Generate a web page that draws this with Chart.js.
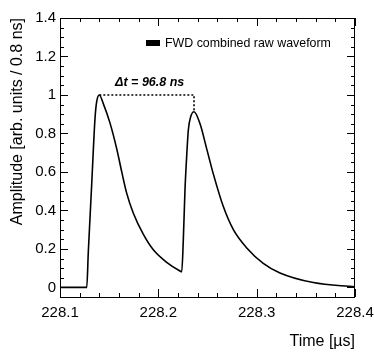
<!DOCTYPE html>
<html lang="en">
<head>
  <meta charset="UTF-8">
  <title>FWD combined raw waveform</title>
  <script src="https://cdn.jsdelivr.net/npm/chart.js"></script>
  <style>
    body { margin: 0; background: #fff; }
  </style>
</head>
<body>
  <canvas id="myChart" width="374" height="359"></canvas>
  <script>
    // waveform (time in us, amplitude in arb. units)
    const timeUs = [
      228.1000, 228.1272, 228.1288, 228.1322, 228.1356, 228.1373, 228.1400,
      228.1440, 228.1508, 228.1577, 228.1628, 228.1678, 228.1746, 228.1848,
      228.1949, 228.2085, 228.2220, 228.2238, 228.2254, 228.2271, 228.2288,
      228.2305, 228.2329, 228.2363, 228.2424, 228.2492, 228.2559, 228.2661,
      228.2763, 228.2899, 228.3067, 228.3237, 228.3576, 228.4000
    ];
    const amplitude = [
      0, 0, 0.185, 0.532, 0.878, 0.965, 1.0,
      0.955, 0.855, 0.72, 0.60, 0.49, 0.385, 0.275,
      0.195, 0.13, 0.085, 0.081, 0.246, 0.506, 0.679,
      0.818, 0.887, 0.913, 0.85, 0.72, 0.59, 0.42,
      0.30, 0.205, 0.125, 0.075, 0.025, 0.003
    ];

    // the two peaks joined by the dotted marker
    const peakTimes = [228.1400, 228.2363];
    const peakAmps = [1.0, 0.913];
    const deltaLabel = 'Δt = 96.8 ns';

    const xTickLabels = ['228.1', '228.2', '228.3', '228.4'];
    const yTickLabels = ['0', '0.2', '0.4', '0.6', '0.8', '1', '1.2', '1.4'];

    const FONT = '"Liberation Sans", Arial, Helvetica, sans-serif';

    const wave = timeUs.map((t, i) => ({ x: t, y: amplitude[i] }));
    const marker = [
      { x: peakTimes[0], y: peakAmps[0] },
      { x: peakTimes[1], y: peakAmps[0] },
      { x: peakTimes[1], y: peakAmps[1] }
    ];

    const rootFrame = {
      id: 'rootFrame',
      afterDraw(chart) {
        const ctx = chart.ctx;
        const xs = chart.scales.x, ys = chart.scales.y;
        const a = chart.chartArea;
        ctx.save();
        ctx.strokeStyle = '#000';
        ctx.lineWidth = 1;
        ctx.strokeRect(a.left + 0.5, a.top + 0.5, a.right - a.left - 1, a.bottom - a.top);

        // x ticks (top and bottom)
        ctx.beginPath();
        for (let i = 0; i <= 15; i++) {
          const v = 228.1 + i * 0.02;
          const px = Math.round(xs.getPixelForValue(v)) + 0.5;
          const len = i % 5 === 0 ? 8 : 4;
          ctx.moveTo(px, a.bottom); ctx.lineTo(px, a.bottom - len);
          ctx.moveTo(px, a.top); ctx.lineTo(px, a.top + len);
        }
        // y ticks (left and right)
        for (let i = -1; i <= 28; i++) {
          const v = i * 0.05;
          const py = Math.round(ys.getPixelForValue(v)) + 0.5;
          if (py < a.top || py > a.bottom) continue;
          const len = i % 4 === 0 ? 8 : 4;
          ctx.moveTo(a.left, py); ctx.lineTo(a.left + len, py);
          ctx.moveTo(a.right, py); ctx.lineTo(a.right - len, py);
        }
        ctx.stroke();

        // tick labels
        ctx.fillStyle = '#000';
        ctx.font = '15px ' + FONT;
        ctx.textAlign = 'center';
        ctx.textBaseline = 'middle';
        xTickLabels.forEach(l => ctx.fillText(l, xs.getPixelForValue(parseFloat(l)), a.bottom + 16));
        ctx.textAlign = 'right';
        yTickLabels.forEach(l => ctx.fillText(l, a.left - 4, ys.getPixelForValue(parseFloat(l))));

        // axis titles
        ctx.font = '16px ' + FONT;
        ctx.textAlign = 'right';
        ctx.fillText('Time [µs]', a.right, 342);
        ctx.save();
        ctx.translate(18, a.top);
        ctx.rotate(-Math.PI / 2);
        ctx.textAlign = 'right';
        ctx.fillText('Amplitude [arb. units / 0.8 ns]', 0, 0);
        ctx.restore();

        // legend
        ctx.fillRect(146, 40, 14, 6);
        ctx.font = '12.4px ' + FONT;
        ctx.textAlign = 'left';
        ctx.fillText('FWD combined raw waveform', 165, 43.5);

        // delta t label
        ctx.font = 'italic bold 12.5px ' + FONT;
        ctx.textAlign = 'center';
        const mid = (xs.getPixelForValue(peakTimes[0]) + xs.getPixelForValue(peakTimes[1])) / 2;
        ctx.fillText(deltaLabel, mid + 3, 83);
        ctx.restore();
      }
    };

    const ctx = document.getElementById('myChart').getContext('2d');
    const myChart = new Chart(ctx, {
      type: 'line',
      data: {
        datasets: [
          {
            label: 'FWD combined raw waveform',
            data: wave,
            borderColor: '#000',
            borderWidth: 1.6,
            pointRadius: 0,
            cubicInterpolationMode: 'monotone',
            fill: false
          },
          {
            label: 'delta t',
            data: marker,
            borderColor: '#000',
            borderWidth: 1.6,
            borderDash: [2, 2],
            pointRadius: 0,
            tension: 0,
            fill: false
          }
        ]
      },
      plugins: [rootFrame],
      options: {
        responsive: false,
        animation: false,
        devicePixelRatio: 1,
        layout: { padding: { left: 60, right: 19, top: 18, bottom: 62 } },
        plugins: { legend: { display: false }, tooltip: { enabled: false } },
        scales: {
          x: { type: 'linear', min: 228.1, max: 228.4, display: false },
          y: { min: -0.05, max: 1.4, display: false }
        }
      }
    });
  </script>
</body>
</html>
